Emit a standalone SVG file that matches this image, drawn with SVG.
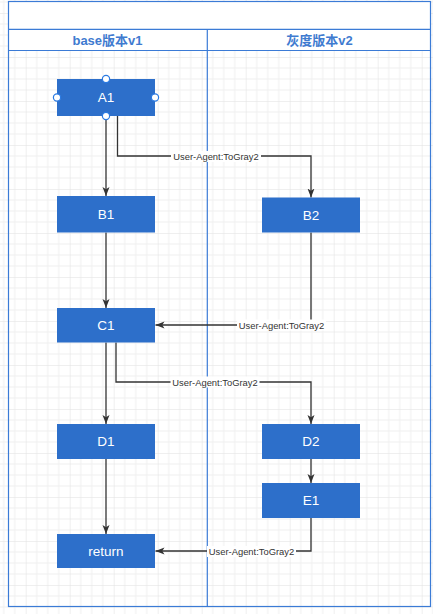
<svg xmlns="http://www.w3.org/2000/svg" width="433" height="614" viewBox="0 0 433 614">
  <defs>
    <pattern id="grid" patternUnits="userSpaceOnUse" x="25.7" y="13" width="44" height="44">
      <path d="M11 0V44M22 0V44M33 0V44M0 11H44M0 22H44M0 33H44" stroke="#efefef" stroke-width="1" fill="none"/>
      <path d="M0 0V44M0 0H44" stroke="#e0e0e0" stroke-width="1" fill="none"/>
    </pattern>
    <marker id="arr" markerUnits="userSpaceOnUse" markerWidth="10" markerHeight="10" viewBox="0 0 10 10" refX="9" refY="5" orient="auto">
      <path d="M0,1.5 L9,5 L0,8.5 L2.2,5 Z" fill="#333333"/>
    </marker>
    <style>
      .node rect { fill: #2d6fca; }
      .node text { fill: #ffffff; font-family: "Liberation Sans", "Noto Sans CJK SC", sans-serif; font-size: 13.5px; text-anchor: middle; dominant-baseline: central; }
      .edge { fill: none; stroke: #333333; stroke-width: 1.3; marker-end: url(#arr); }
      .lbl rect { fill: #ffffff; }
      .lbl text { fill: #333333; font-family: "Liberation Sans", sans-serif; font-size: 9.4px; text-anchor: middle; dominant-baseline: central; }
      .pool { fill: none; stroke: #3b7bd6; stroke-width: 1.2; }
      .hdr { fill: #3f7bd0; font-family: "Liberation Sans", "Noto Sans CJK SC", sans-serif; font-size: 13px; font-weight: bold; text-anchor: middle; dominant-baseline: central; }
      .handle { fill: #ffffff; stroke: #2a7ae2; stroke-width: 1.2; }
    </style>
  </defs>

  <rect x="0" y="0" width="433" height="614" fill="#ffffff"/>
  <rect x="0" y="0" width="433" height="614" fill="url(#grid)"/>

  <g id="pool">
    <rect x="8.5" y="1.5" width="422" height="27.5" fill="#ffffff" stroke="none"/>
    <rect x="8.5" y="29" width="422" height="21.5" fill="#ffffff" stroke="none"/>
    <rect class="pool" x="8.5" y="1.5" width="422" height="605"/>
    <line class="pool" x1="8.5" y1="29.3" x2="430.5" y2="29.3"/>
    <line class="pool" x1="8.5" y1="50.5" x2="430.5" y2="50.5"/>
    <line class="pool" x1="207.3" y1="29.3" x2="207.3" y2="606.5"/>
    <text class="hdr" x="107.5" y="40">base版本v1</text>
    <text class="hdr" x="319.5" y="40">灰度版本v2</text>
  </g>

  <g id="connectors">
    <path class="edge" d="M106 115.5 V196"/>
    <path class="edge" d="M117.5 115.5 V156 H311 V197.5"/>
    <path class="edge" d="M106 232.5 V308"/>
    <path class="edge" d="M311 232.5 V325 H155.5"/>
    <path class="edge" d="M106 342.5 V424"/>
    <path class="edge" d="M116 342.5 V382 H311 V424"/>
    <path class="edge" d="M311 459 V483"/>
    <path class="edge" d="M106 459 V534"/>
    <path class="edge" d="M311 518 V551 H155.5"/>
    <g class="lbl"><rect x="171" y="151" width="90" height="11"/><text x="216" y="156.5">User-Agent:ToGray2</text></g>
    <g class="lbl"><rect x="237" y="319.5" width="89" height="11"/><text x="281.5" y="325">User-Agent:ToGray2</text></g>
    <g class="lbl"><rect x="170.5" y="376.5" width="89" height="11"/><text x="215" y="382">User-Agent:ToGray2</text></g>
    <g class="lbl"><rect x="207" y="546" width="89" height="11"/><text x="251.5" y="551.5">User-Agent:ToGray2</text></g>
  </g>

  <g id="A1" class="node"><rect x="57" y="79" width="98" height="37"/><text x="106" y="97.5">A1</text></g>
  <g id="B1" class="node"><rect x="57" y="196" width="98" height="36.5"/><text x="106" y="214.5">B1</text></g>
  <g id="B2" class="node"><rect x="262" y="197.5" width="98" height="35"/><text x="311" y="215">B2</text></g>
  <g id="C1" class="node"><rect x="57" y="308" width="98" height="34.5"/><text x="106" y="325.5">C1</text></g>
  <g id="D1" class="node"><rect x="57" y="424" width="98" height="35"/><text x="106" y="441.5">D1</text></g>
  <g id="D2" class="node"><rect x="262" y="424" width="98" height="35"/><text x="311" y="441.5">D2</text></g>
  <g id="E1" class="node"><rect x="262" y="483" width="98" height="35"/><text x="311" y="500.5">E1</text></g>
  <g id="return" class="node"><rect x="57" y="534" width="98" height="34"/><text x="106" y="551">return</text></g>

  <g id="selection-handles">
    <circle class="handle" cx="106" cy="79" r="3.6"/>
    <circle class="handle" cx="57" cy="97.5" r="3.6"/>
    <circle class="handle" cx="155" cy="97.5" r="3.6"/>
    <circle class="handle" cx="106" cy="116" r="3.6"/>
  </g>
</svg>
